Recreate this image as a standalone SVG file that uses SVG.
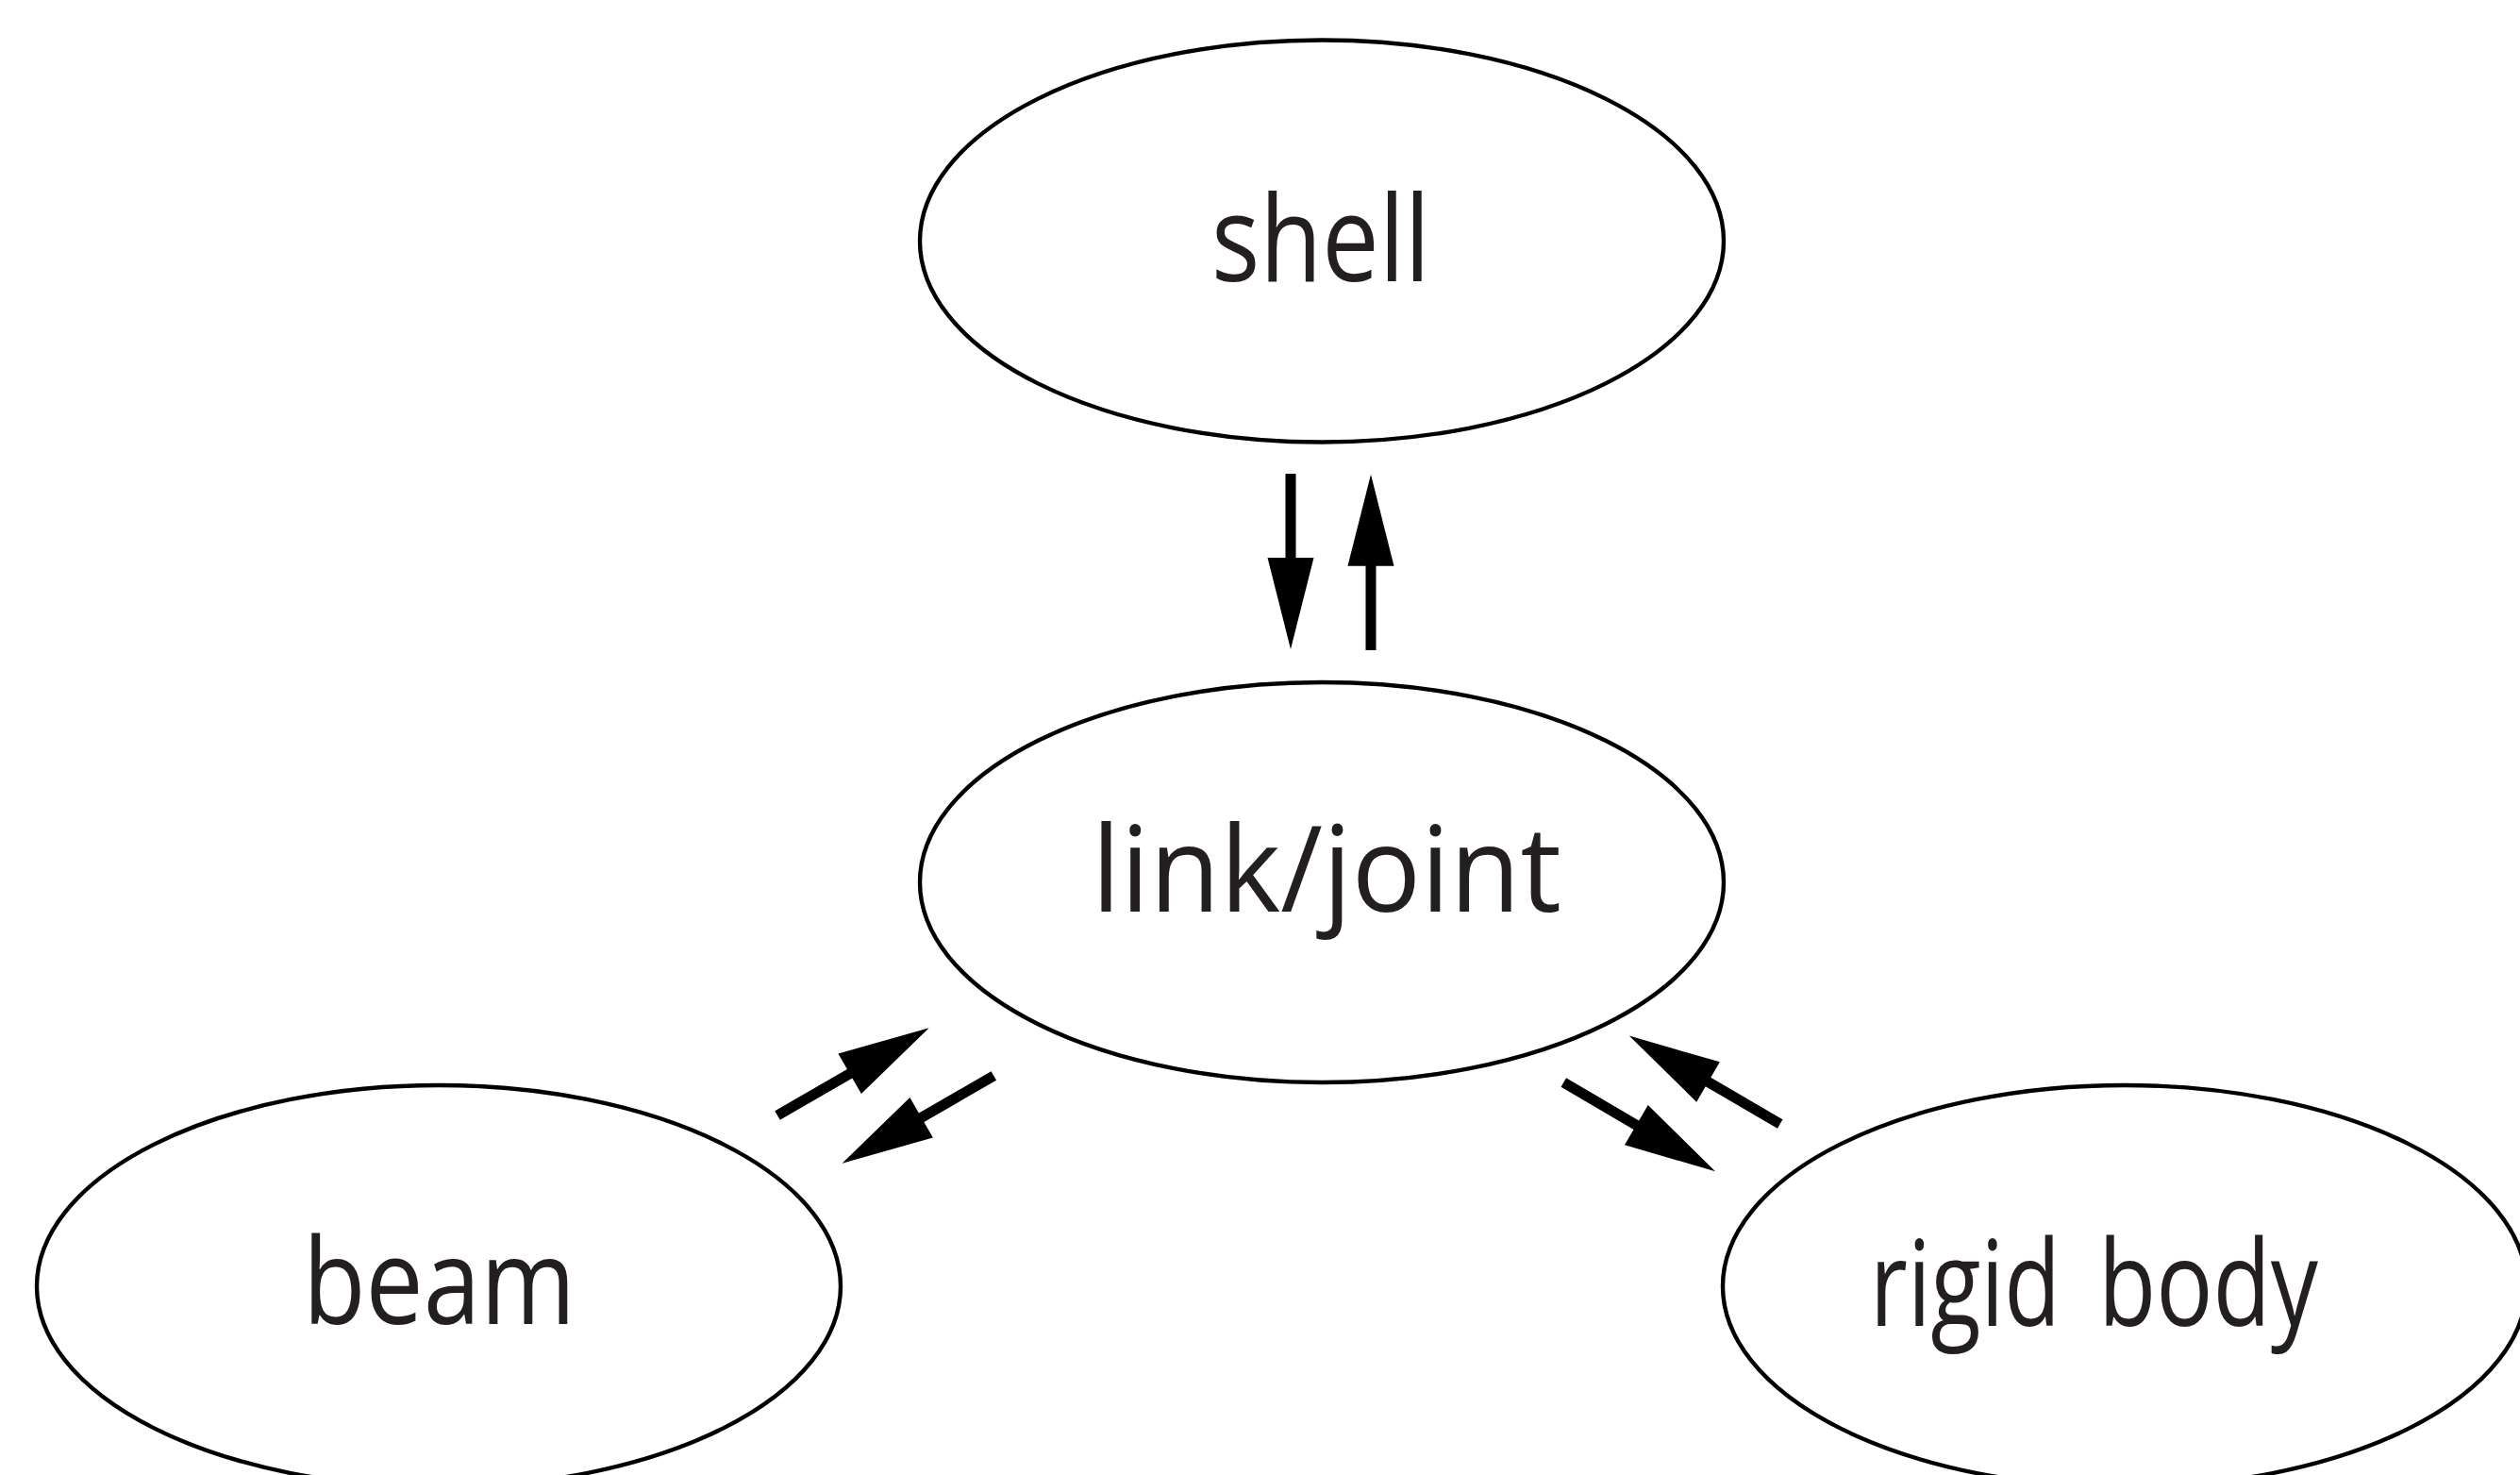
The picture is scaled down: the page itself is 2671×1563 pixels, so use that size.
<svg xmlns="http://www.w3.org/2000/svg" width="2671" height="1563" viewBox="0 0 2671 1563">
<style>
.node ellipse{fill:#ffffff;stroke:#000000;stroke-width:4.4}
.node text{font-family:"Open Sans","Liberation Sans",Arial,sans-serif;font-size:127px;fill:#231f20}
.edge{fill:none;stroke:#000000;stroke-width:11;marker-end:url(#head)}
</style>
<defs>
<marker id="head" markerUnits="userSpaceOnUse" markerWidth="100" markerHeight="50" refX="2" refY="24.5" orient="auto" overflow="visible">
<path d="M0,0 L97,24.5 L0,49 Z" fill="#000000"/>
</marker>
</defs>
<rect width="2671" height="1563" fill="#ffffff"/>
<g id="shell" class="node">
<ellipse cx="1401" cy="255.5" rx="426" ry="213"/>
<text x="1284" y="298" textLength="232" lengthAdjust="spacingAndGlyphs">shell</text>
</g>
<g id="link_joint" class="node">
<ellipse cx="1401" cy="935" rx="426" ry="212"/>
<text x="1157" y="966" textLength="498" lengthAdjust="spacingAndGlyphs">link/joint</text>
</g>
<g id="beam" class="node">
<ellipse cx="465" cy="1363" rx="426" ry="213"/>
<text x="321" y="1403" textLength="289" lengthAdjust="spacingAndGlyphs">beam</text>
</g>
<g id="rigid_body" class="node">
<ellipse cx="2252" cy="1363" rx="426" ry="213"/>
<text y="1405"><tspan x="1982" textLength="202" lengthAdjust="spacingAndGlyphs">rigid</tspan> <tspan x="2224" textLength="233" lengthAdjust="spacingAndGlyphs">body</tspan></text>
</g>
<g id="connectors">
<path class="edge" d="M1368,502 L1368,593"/>
<path class="edge" d="M1453,689 L1453,597.7"/>
<path class="edge" d="M824,1182 L902.4,1136.8"/>
<path class="edge" d="M1053.3,1140 L974.9,1185.2"/>
<path class="edge" d="M1657.3,1147 L1736.1,1193.2"/>
<path class="edge" d="M1886.7,1191 L1808.8,1145.5"/>
</g>
</svg>
